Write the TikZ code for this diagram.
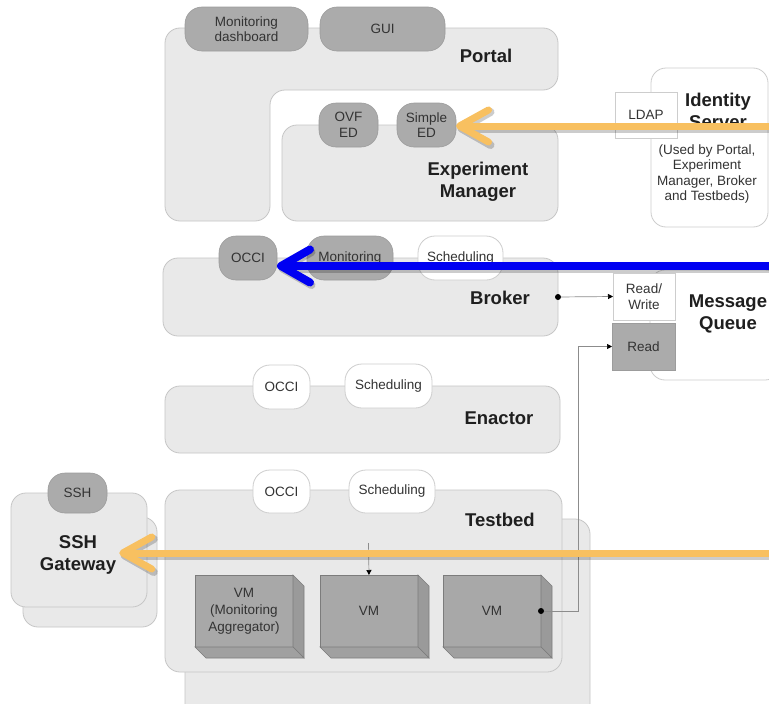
\documentclass[tikz,border=0pt]{standalone}
\usepackage{fontspec}
\setmainfont{Liberation Sans}
\usetikzlibrary{arrows.meta}
\definecolor{contfill}{HTML}{E9E9E9}
\definecolor{contline}{HTML}{C6C6C6}
\definecolor{darkfill}{HTML}{ABABAB}
\definecolor{darkline}{HTML}{9C9C9C}
\definecolor{lightline}{HTML}{CDCDCD}
\definecolor{vmfill}{HTML}{A8A8A8}
\definecolor{vmside}{HTML}{9A9A9A}
\definecolor{vmbottom}{HTML}{A0A0A0}
\definecolor{vmline}{HTML}{7C7C7C}
\definecolor{txt}{HTML}{333333}
\definecolor{orangearr}{HTML}{F8C060}
\definecolor{bluearr}{HTML}{0000F2}
\definecolor{conn}{HTML}{8C8C8C}
\newcommand{\mysmall}{\fontsize{13.5}{15.5}\selectfont}
\newcommand{\mybig}{\fontsize{18.5}{22}\selectfont\bfseries}
\begin{document}
\begin{tikzpicture}[x=1pt,y=-1pt,
  box/.style={anchor=north west, inner sep=0pt, outer sep=0pt},
  cont/.style={box, fill=contfill, draw=contline, line width=0.8pt, rounded corners=15pt},
  pilldark/.style={box, fill=darkfill, draw=darkline, line width=0.6pt, rounded corners=17pt, font=\mysmall, text=txt, align=center},
  pilllight/.style={box, fill=white, draw=lightline, line width=0.8pt, rounded corners=17pt, font=\mysmall, text=txt, align=center},
  sqbox/.style={box, draw=lightline, line width=0.8pt, font=\mysmall, text=txt, align=center},
  whitecont/.style={box, fill=white, draw=lightline, line width=0.8pt, rounded corners=15pt},
  biglabel/.style={font=\mybig, text=black!88, align=center, inner sep=3pt},
  desc/.style={font=\mysmall, text=txt, align=center},
  vm/.style={box, fill=vmfill, draw=vmline, line width=0.6pt, minimum width=98pt, minimum height=72pt, font=\mysmall, text=txt, align=center},
  conline/.style={draw=conn, line width=0.7pt},
  smallarrow/.style={conline, -{Triangle[length=5pt,width=5pt,fill=black,color=black]}},
  dotend/.style={circle, fill=black, inner sep=0pt, minimum size=6pt},
  orangeline/.style={draw=orangearr, line width=7pt, -{Straight Barb[length=29pt,width=32pt,round]}},
  blueline/.style={draw=bluearr, line width=8pt, -{Straight Barb[length=29pt,width=33pt,round]}},
  shadowline/.style={draw=black, opacity=0.2, line width=8pt, -{Straight Barb[length=29pt,width=33pt,round]}}
]
\useasboundingbox[fill=white] (0,0) rectangle (769,704);

% ---------- Portal (L shape)
\draw[fill=contfill, draw=contline, line width=0.8pt, rounded corners=15pt]
  (165,28) -- (558,28) -- (558,90) -- (270,90) -- (270,221) -- (165,221) -- cycle;
\node[pilldark, minimum width=123pt, minimum height=44pt] (mondash) at (185,7) {Monitoring\\dashboard};
\node[pilldark, minimum width=125pt, minimum height=44pt] (gui) at (320,7) {GUI};
\node[biglabel] (portal) at (486,56) {Portal};

% ---------- Experiment Manager
\node[cont, minimum width=276pt, minimum height=96pt] (em) at (282,125) {};
\node[pilldark, minimum width=59pt, minimum height=44pt] (ovf) at (319,103) {OVF\\ED};
\node[pilldark, minimum width=59pt, minimum height=44pt] (simple) at (397,103) {Simple\\ED};
\node[biglabel] (emlabel) at (478,182) {Experiment\\Manager};

% ---------- Identity Server
\node[whitecont, minimum width=117pt, minimum height=159pt] (ids) at (651,68) {};
\node[sqbox, fill=white, minimum width=62pt, minimum height=46pt] (ldap) at (615,92) {LDAP};
\node[biglabel] (idlabel) at (718,111) {Identity\\Server};
\node[desc] (iddesc) at (707,174) {(Used by Portal,\\Experiment\\Manager, Broker\\and Testbeds)};

% ---------- Broker
\node[cont, minimum width=395pt, minimum height=78pt] (broker) at (163,258) {};
\node[pilldark, minimum width=58pt, minimum height=44pt] (occib) at (219,236) {OCCI};
\node[pilldark, minimum width=86pt, minimum height=44pt] (monb) at (307,236) {Monitoring};
\node[pilllight, minimum width=85pt, minimum height=44pt] (schedb) at (418,236) {Scheduling};
\node[biglabel] (brokerlabel) at (500,298) {Broker};

% ---------- Message Queue
\node[whitecont, minimum width=130pt, minimum height=110pt] (mq) at (650,270) {};
\node[sqbox, fill=white, minimum width=62pt, minimum height=47pt] (rw) at (613,273) {Read/\\Write};
\node[sqbox, fill=darkfill, draw=darkline, minimum width=63pt, minimum height=47pt] (rd) at (612,323) {Read};
\node[biglabel] (mqlabel) at (728,314) {Message\\Queue};

% ---------- Enactor
\node[cont, minimum width=395pt, minimum height=67pt] (enactor) at (165,386) {};
\node[pilllight, minimum width=57pt, minimum height=44pt] (occie) at (253,365) {OCCI};
\node[pilllight, minimum width=87pt, minimum height=44pt] (schede) at (345,364) {Scheduling};
\node[biglabel] (enlabel) at (499,418) {Enactor};

% ---------- Testbed
\node[cont, minimum width=405pt, minimum height=200pt] (tbback) at (185,519) {};
\node[cont, minimum width=397pt, minimum height=182pt] (testbed) at (165,490) {};
\node[pilllight, minimum width=57pt, minimum height=43pt] (occit) at (253,470) {OCCI};
\node[pilllight, minimum width=86pt, minimum height=43pt] (schedt) at (349,470) {Scheduling};
\node[biglabel] (tblabel) at (500,520) {Testbed};

% VMs
\node[vm, font=\fontsize{13.5}{17}\selectfont] (vm1) at (195,575) {VM\\(Monitoring\\Aggregator)};
\node[vm] (vm2) at (320,575) {VM};
\node[vm] (vm3) at (443,575) {VM};
\foreach \v in {vm1,vm2,vm3}{
  \filldraw[fill=vmside, draw=vmline, line width=0.6pt] (\v.north east) -- ++(11,11) -- ([shift={(11,11)}]\v.south east) -- (\v.south east) -- cycle;
  \filldraw[fill=vmbottom, draw=vmline, line width=0.6pt] (\v.south west) -- (\v.south east) -- ([shift={(11,11)}]\v.south east) -- ([shift={(11,11)}]\v.south west) -- cycle;
}

% ---------- SSH Gateway
\node[cont, minimum width=134pt, minimum height=110pt] (sshback) at (23,517) {};
\node[cont, minimum width=136pt, minimum height=114pt] (sshfront) at (11,493) {};
\node[pilldark, minimum width=59pt, minimum height=40pt] (ssh) at (48,473) {SSH};
\node[biglabel] (sshlabel) at (78,555) {SSH\\Gateway};

% ---------- small connectors
\node[dotend] (bdot) at (558,297) {};
\draw[smallarrow] (bdot) -- (rw.west);
\node[dotend] (vmdot) at (541,611) {};
\coordinate (bend) at (578,611);
\draw[smallarrow] (vmdot) -- (bend) |- (rd.west);
\coordinate (vmin) at (368.5,543);
\draw[smallarrow] (vmin) -- (vm2.north);

% ---------- big arrows
\coordinate (o1) at (775,126);
\coordinate (b1) at (775,266);
\coordinate (o2) at (775,553);
\draw[shadowline, transform canvas={shift={(1.5pt,-2.5pt)}}] (o1) -- (o1 -| simple.east);
\draw[orangeline] (o1) -- (o1 -| simple.east);
\draw[shadowline, transform canvas={shift={(1.5pt,-2.5pt)}}] (b1) -- (b1 -| occib.east);
\draw[blueline] (b1) -- (b1 -| occib.east);
\draw[shadowline, transform canvas={shift={(1.5pt,-2.5pt)}}] (o2) -- (o2 -| sshlabel.east);
\draw[orangeline] (o2) -- (o2 -| sshlabel.east);
\end{tikzpicture}
\end{document}
